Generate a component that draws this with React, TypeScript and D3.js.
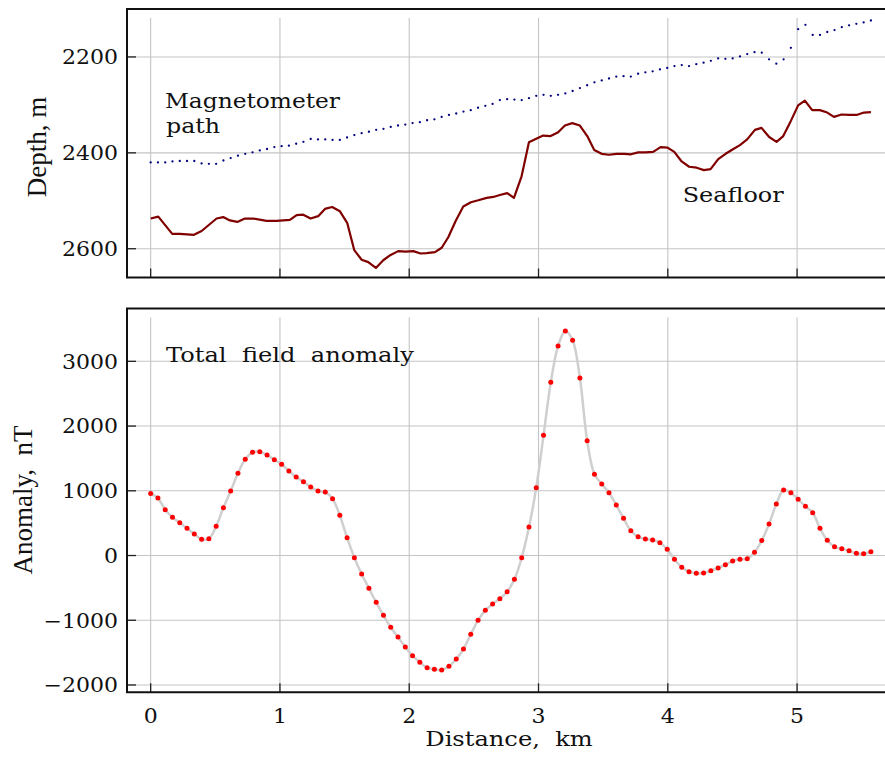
import * as d3 from 'd3'

// tick values
const distanceTicks = [0, 1, 2, 3, 4, 5]
const depthTicks = [2200, 2400, 2600]
const anomalyTicks = [-2000, -1000, 0, 1000, 2000, 3000]

// seafloor profile (km, m)
const seafloorKm = [0, 0.059, 0.167, 0.227, 0.335, 0.394, 0.51, 0.561, 0.613, 0.67, 0.729, 0.794, 0.897, 0.974, 1.077, 1.129, 1.18, 1.237, 1.296, 1.348, 1.404, 1.464, 1.52, 1.575, 1.632, 1.683, 1.742, 1.799, 1.856, 1.915, 1.972, 2.031, 2.088, 2.135, 2.199, 2.251, 2.302, 2.359, 2.418, 2.477, 2.534, 2.599, 2.65, 2.701, 2.758, 2.81, 2.869, 2.926, 2.978, 3.036, 3.094, 3.152, 3.204, 3.261, 3.32, 3.377, 3.431, 3.488, 3.544, 3.604, 3.663, 3.715, 3.771, 3.828, 3.887, 3.944, 3.998, 4.05, 4.107, 4.165, 4.223, 4.279, 4.331, 4.39, 4.447, 4.501, 4.558, 4.614, 4.674, 4.725, 4.784, 4.841, 4.893, 4.944, 5.008, 5.06, 5.117, 5.176, 5.233, 5.285, 5.344, 5.403, 5.46, 5.517, 5.571]
const seafloorDepth = [2537, 2533, 2569, 2569, 2571, 2563, 2537, 2534, 2541, 2544, 2537, 2537, 2542, 2542, 2540, 2530, 2529, 2537, 2532, 2517, 2513, 2522, 2546, 2603, 2623, 2628, 2640, 2624, 2613, 2605, 2606, 2605, 2610, 2609, 2607, 2598, 2576, 2542, 2512, 2503, 2499, 2494, 2492, 2488, 2484, 2494, 2449, 2378, 2371, 2364, 2365, 2357, 2343, 2338, 2343, 2365, 2394, 2402, 2404, 2402, 2402, 2403, 2399, 2399, 2398, 2388, 2389, 2398, 2418, 2429, 2431, 2436, 2434, 2413, 2402, 2393, 2384, 2372, 2352, 2348, 2367, 2377, 2365, 2338, 2301, 2291, 2311, 2311, 2316, 2325, 2320, 2321, 2321, 2316, 2315]

// survey stations along the track
const stationKm = d3.range(100).map(i => (i * 5.571) / 99)

// magnetometer depth at each station (m)
const magDepth = [2420, 2420, 2420, 2418, 2417, 2417, 2417, 2422, 2423, 2423, 2416, 2411, 2406, 2402, 2399, 2395, 2392, 2388, 2386, 2385, 2381, 2377, 2371, 2372, 2372, 2373, 2373, 2368, 2363, 2359, 2356, 2352, 2350, 2346, 2343, 2341, 2338, 2336, 2332, 2330, 2325, 2321, 2318, 2314, 2311, 2306, 2302, 2298, 2290, 2288, 2289, 2290, 2286, 2281, 2279, 2281, 2279, 2276, 2271, 2265, 2259, 2253, 2249, 2245, 2241, 2240, 2241, 2235, 2232, 2230, 2226, 2223, 2219, 2217, 2219, 2215, 2212, 2208, 2203, 2204, 2203, 2199, 2194, 2190, 2191, 2205, 2214, 2205, 2181, 2142, 2133, 2154, 2154, 2148, 2144, 2138, 2134, 2131, 2128, 2124]

// total field anomaly at each station (nT)
const anomalyNT = [960, 888, 707, 590, 507, 420, 332, 250, 260, 451, 738, 996, 1270, 1486, 1594, 1603, 1552, 1480, 1409, 1305, 1213, 1140, 1058, 996, 981, 877, 621, 275, -34, -286, -507, -723, -924, -1109, -1259, -1413, -1548, -1650, -1733, -1758, -1769, -1712, -1599, -1444, -1217, -1001, -846, -749, -667, -559, -368, -34, 440, 1047, 1857, 2675, 3236, 3468, 3324, 2742, 1773, 1254, 1104, 970, 780, 575, 383, 290, 255, 239, 198, 96, -59, -182, -250, -275, -270, -235, -193, -142, -85, -59, -49, 49, 232, 487, 796, 1012, 970, 868, 760, 661, 420, 235, 136, 105, 74, 34, 28, 59]

const W = 885
const H = 759
const LEFT = 127
const FONT = '"DejaVu Serif", serif'
const LABEL_FONT = '"Liberation Serif", serif'
const GRID = '#c4c4c4'

const x = d3.scaleLinear().domain([-0.183, 5.68]).range([LEFT, W])
const yDepth = d3.scaleLinear().domain([2100, 2660]).range([9, 277.5])
const yAnom = d3.scaleLinear().domain([-2113, 3816]).range([692.3, 308.5])

const fmt = (v: number) => (v < 0 ? '\u2212' + Math.abs(v) : String(v))

function Txt({ x, y, anchor = 'start', sx = 1, size = 21, rot = 0, font, children }: any) {
  return (
    <text
      transform={`translate(${x},${y})${rot ? ` rotate(${rot})` : ''} scale(${sx},1)`}
      textAnchor={anchor}
      fontSize={size}
      fontFamily={font}
      fill="#111"
      style={{ whiteSpace: 'pre' }}
    >
      {children}
    </text>
  )
}

function Panel({ top, bottom, y, ticks, xLabels }: any) {
  return (
    <g>
      {ticks.map((t: number) => (
        <line key={'h' + t} x1={LEFT} x2={W} y1={y(t)} y2={y(t)} stroke={GRID} strokeWidth={1.1} />
      ))}
      {distanceTicks.map(d => (
        <line key={'v' + d} x1={x(d)} x2={x(d)} y1={top + 9} y2={bottom} stroke={GRID} strokeWidth={1.1} />
      ))}
      {ticks.map((t: number) => (
        <line key={'yt' + t} x1={LEFT} x2={LEFT + 9} y1={y(t)} y2={y(t)} stroke="#222" strokeWidth={1.3} />
      ))}
      {distanceTicks.map(d => (
        <line key={'xt' + d} x1={x(d)} x2={x(d)} y1={bottom - 9} y2={bottom} stroke="#222" strokeWidth={1.3} />
      ))}
      <path d={`M${W + 5},${top}H${LEFT}V${bottom}H${W + 5}`} fill="none" stroke="#111" strokeWidth={2} />
      {ticks.map((t: number) => (
        <Txt key={'yl' + t} x={118} y={y(t) + 7.3} anchor="end" sx={1.1} size={20}>{fmt(t)}</Txt>
      ))}
      {xLabels && distanceTicks.map(d => (
        <Txt key={'xl' + d} x={x(d)} y={723} anchor="middle" sx={1.1} size={20}>{String(d)}</Txt>
      ))}
    </g>
  )
}

export default function App() {
  const seafloor = d3.line<number>().x((_, i) => x(seafloorKm[i])).y(d => yDepth(d))
  const anomaly = d3.line<number>().x((_, i) => x(stationKm[i])).y(d => yAnom(d)).curve(d3.curveCatmullRom)

  return (
    <svg width={W} height={H} fontFamily={FONT} style={{ position: 'absolute', left: 0, top: 0, display: 'block' }}>
      <rect width={W} height={H} fill="#fff" />

      {/* depth panel */}
      <Panel top={9} bottom={277.5} y={yDepth} ticks={depthTicks} xLabels={false} />
      <path d={seafloor(seafloorDepth) || ''} fill="none" stroke="#800000" strokeWidth={2.2} strokeLinejoin="round" />
      {magDepth.map((v, i) => (
        <circle key={'m' + i} cx={x(stationKm[i])} cy={yDepth(v)} r={1.15} fill="#000080" />
      ))}
      <Txt x={165} y={108.3} sx={1.11}>Magnetometer</Txt>
      <Txt x={166} y={133.3} sx={1.13}>path</Txt>
      <Txt x={682.7} y={202} sx={1.14}>Seafloor</Txt>
      <Txt x={46} y={147} anchor="middle" rot={-90} size={27} font={LABEL_FONT}>Depth, m</Txt>

      {/* anomaly panel */}
      <Panel top={308.5} bottom={692.3} y={yAnom} ticks={anomalyTicks} xLabels={true} />
      <path d={anomaly(anomalyNT) || ''} fill="none" stroke="#cfcfcf" strokeWidth={2.5} strokeLinejoin="round" />
      {anomalyNT.map((v, i) => (
        <circle key={'a' + i} cx={x(stationKm[i])} cy={yAnom(v)} r={2.5} fill="#ff0000" />
      ))}
      <Txt x={166} y={362.3} sx={1.15}>{'Total  field  anomaly'}</Txt>
      <Txt x={32} y={500} anchor="middle" rot={-90} size={27} font={LABEL_FONT}>{'Anomaly,  nT'}</Txt>

      <Txt x={509} y={745.5} anchor="middle" sx={1.15}>{'Distance,  km'}</Txt>
    </svg>
  )
}
